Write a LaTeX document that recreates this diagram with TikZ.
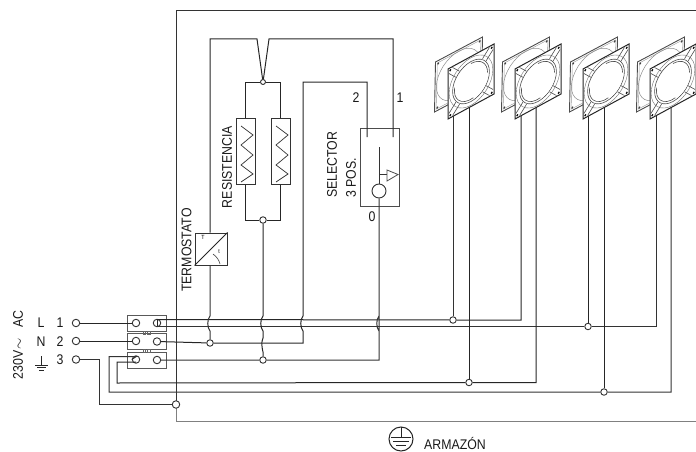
\documentclass[tikz,border=0pt]{standalone}
\usepackage{fontspec}
\setmainfont[FakeStretch=0.88]{Liberation Sans}
\tikzset{
  wire/.style={draw=black!85,line width=1pt},
  thinwire/.style={draw=black!80,line width=1pt},
  term/.style={circle,draw=black!80,fill=white,line width=.9pt,inner sep=0pt,minimum size=7.5pt},
  blk/.style={rectangle,draw=black!65,fill=white,line width=1pt,inner sep=0pt,minimum width=39pt,minimum height=16pt},
  link/.style={rectangle,draw=black!60,line width=.5pt,inner sep=0pt,minimum size=2.5pt},
  resbox/.style={rectangle,draw=black!80,fill=white,line width=1pt,inner sep=0pt,minimum width=19pt,minimum height=66pt},
  lbl/.style={text=black!90,font=\fontsize{14}{15}\selectfont,inner sep=0pt},
  lblv/.style={lbl,rotate=90},
}
\newcommand{\hop}[1]{(#1,316) .. controls (#1-3,320) and (#1-3,327) .. (#1,331)}
\begin{document}
\begin{tikzpicture}[x=1pt,y=-1pt]
\useasboundingbox (0,0) rectangle (696,452);
\draw[thinwire,line width=.9pt] (696,10) -- (176,10) -- (176,404);
\draw[thinwire,draw=black!50] (176,404) -- (176,421) -- (696,421);

\node[blk] (blkA) at (146.5,323) {};
\node[blk] (blkB) at (146.5,341.5) {};
\node[blk] (blkC) at (146.5,360) {};
\node[link] (lkA) at (144,332.5) {};
\node[link] (lkB) at (148.5,332.5) {};
\node[link] (lkC) at (144,350.5) {};
\node[link] (lkD) at (148.5,350.5) {};
\node[term] (tL) at (76,323) {};
\node[term] (tN) at (76,341) {};
\node[term] (tE) at (76,359.5) {};
\node[term] (aL) at (136,323) {};
\node[term] (aN) at (136,341) {};
\node[term] (aE) at (136,359.5) {};
\node[term] (bL) at (157,323) {};
\node[term] (bN) at (157,341.5) {};
\node[term] (bE) at (157,360) {};
\node[term] (gnd) at (176,404.5) {};
\node[term,minimum size=6.5pt] (jA) at (210,343) {};
\node[term,minimum size=6.5pt] (jB) at (263,360) {};
\node[term,minimum size=6.5pt] (jC) at (453,320) {};
\node[term,minimum size=6.5pt] (jD) at (588,326.5) {};
\node[term,minimum size=6.5pt] (jE) at (469,382.5) {};
\node[term,minimum size=6.5pt] (jF) at (604,392) {};
\node[term,minimum size=5pt] (resT) at (263,82) {};
\node[term,minimum size=6.5pt] (resB) at (263,220) {};
\node[resbox] (resA) at (245.5,151) {};
\node[resbox] (resC) at (280.5,151) {};
\node[rectangle,draw=black!80,fill=white,line width=1pt,inner sep=0pt,minimum size=32pt] (tstat) at (211,249) {};
\node[rectangle,draw=black!70,fill=white,line width=.9pt,inner sep=0pt,minimum width=39pt,minimum height=78pt] (sel) at (379.5,167) {};
\node[term,minimum size=14pt] (selC) at (379,191) {};

\draw[wire] (tL) -- (aL);
\draw[wire] (tN) -- (aN);
\draw[thinwire] (tE) -- (99,359.5) -- (99,404.5) -- (gnd);
\draw[wire] (157,319.5) -- (157,326.5);
\draw[wire] (157,319.5) -- (jC) -- (521,320) -- (521,105);
\draw[thinwire] (157,326.5) -- (jD) -- (656,326.5) -- (656,105);
\draw[thinwire] (jC) -- (453,105);
\draw[wire] (jD) -- (588,105);
\draw[wire] (bN) -- (jA) -- (303,343) -- (303,331) .. controls (300,327) and (300,320) .. (303,316) -- (303,82) -- (367,82) -- (367,137);
\draw[thinwire] (bE) -- (jB) -- (379,360) -- \hop{379} -- (selC);
\draw[thinwire] (aE.west) -- (136,356.7) -- (109,356.7) -- (109,392) -- (jF) -- (671,392) -- (671,95);
\draw[wire] (136,362) -- (117,362) -- (117,383) -- (jE) -- (536,382.5) -- (536,95);
\draw[wire] (jE) -- (469,95);
\draw[wire] (jF) -- (604,95);

\draw[wire] (tstat.north -| 210,0) -- (210,39) -- (257,39) -- (resT);
\draw[wire] (resT) -- (269,39) -- (393,39) -- (393,137);
\draw[thinwire] (tstat.south -| 210,0) -- \hop{210} -- (jA);
\draw[wire] (resB) -- \hop{263} -- (263,338) .. controls (261,342) and (262,348) .. (263,352) -- (jB);
\draw[wire] (resT) -- (245,82) -- (resA.north -| 245,0);
\draw[wire] (resT) -- (280,82) -- (resC.north -| 280,0);
\draw[wire] (resA.south -| 245,0) -- (245,220) -- (resB);
\draw[wire] (resC.south -| 280,0) -- (280,220) -- (resB);

\foreach \zx in {0,35}
  \draw[black!80,line width=.7pt] (241+\zx,126) -- (253+\zx,135) -- (241+\zx,145) -- (253+\zx,155) -- (241+\zx,165) -- (253+\zx,174) -- (241+\zx,182);
\draw[black!85,line width=1pt] (tstat.south west) -- (tstat.north east);
\node[font=\fontsize{6}{6}\selectfont,inner sep=0pt] (tsT) at (203,237) {T};
\node[font=\fontsize{6}{6}\selectfont,inner sep=0pt] (tst) at (219,252) {t};
\draw[black!75,line width=.6pt] (213,254) .. controls (217,257) and (219,260) .. (220,264);
\draw[black!80,line width=.9pt] (379,147) -- (selC);
\draw[black!80,line width=.9pt] (379,174) -- (387,174);
\draw[black!70,line width=.8pt] (387,170) -- (398,174.5) -- (387,181) -- cycle;

\foreach \fx in {0,67,135,202} {
  \begin{scope}[cm={23.5,12.5,.5,25,(458.5+\fx,74.5)}]
    \draw[black!70,fill=white,line width=.9pt] (-1,-1) rectangle (1,1);
    \draw[black!40,line width=.4pt] (-.92,-.92) rectangle (.92,.92);
    \draw[black!45,line width=.5pt] (0,0) circle (.94);
    \fill[black!75] (-.88,-.88) circle (.045) (.88,-.88) circle (.045) (-.88,.88) circle (.045);
  \end{scope}
  \begin{scope}[cm={23,12.5,0,25,(471+\fx,81.5)}]
    \draw[black!85,fill=white,line width=1pt] (-1,-1) rectangle (1,1);
    \draw[black!55,line width=.4pt] (0,0) circle (.95);
    \draw[black!70,line width=.6pt] (0,0) circle (.8);
    \foreach \ca/\cb in {-1/-1,1/-1,-1/1,1/1} {
      \draw[black!70,line width=.6pt] (.66*\ca,.5*\cb) -- (.96*\ca,.8*\cb);
      \draw[black!70,line width=.6pt] (.5*\ca,.66*\cb) -- (.8*\ca,.96*\cb);
    }
    \fill[white] (.05,.05) circle (.7);
    \draw[black!70,line width=.6pt] (.1,.7) arc (80:190:.7);
    \draw[black!70,line width=.6pt] (0,-.72) arc (270:360:.72);
    \fill[black!90] (-.9,-.9) circle (.05) (.9,-.9) circle (.05) (-.9,.9) circle (.05) (.9,.9) circle (.05);
  \end{scope}
}

\node[lblv] (tTerm) at (186.5,250) {TERMOSTATO};
\node[lblv] (tRes) at (227,167) {RESISTENCIA};
\node[lblv,anchor=west] (tSel) at (332,198) {SELECTOR};
\node[lblv,anchor=west] (tPos) at (351,198) {3 POS.};
\node[lbl] (tTwo) at (356,98) {2};
\node[lbl] (tOne) at (400,98) {1};
\node[lbl] (tZero) at (372,217) {0};
\node[lblv] (tAc) at (18,345) {230V\hspace{1pt}$\sim$\hspace{11pt}AC};
\node[lbl] (tl) at (41,323) {L};
\node[lbl] (ta) at (60,323) {1};
\node[lbl] (tn) at (41,342) {N};
\node[lbl] (tb) at (60,342) {2};
\node[lbl] (tc) at (60,360) {3};
\draw[black!85,line width=1pt] (41.5,356) -- (41.5,365) (35,365) -- (48,365) (37,367.8) -- (46,367.8);
\draw[black!85,line width=.8pt] (39,370.3) -- (44,370.3);
\node[circle,draw=black!85,line width=1pt,minimum size=24pt,inner sep=0pt] (gsym) at (401,439) {};
\draw[black!85,line width=1pt] (401,427) -- (401,437) (391,437) -- (411,437);
\draw[black!85,line width=.9pt] (393,441) -- (409,441) (396,445) -- (406,445);
\node[lbl] (tArm) at (455,443.5) {ARMAZÓN};
\end{tikzpicture}
\end{document}
